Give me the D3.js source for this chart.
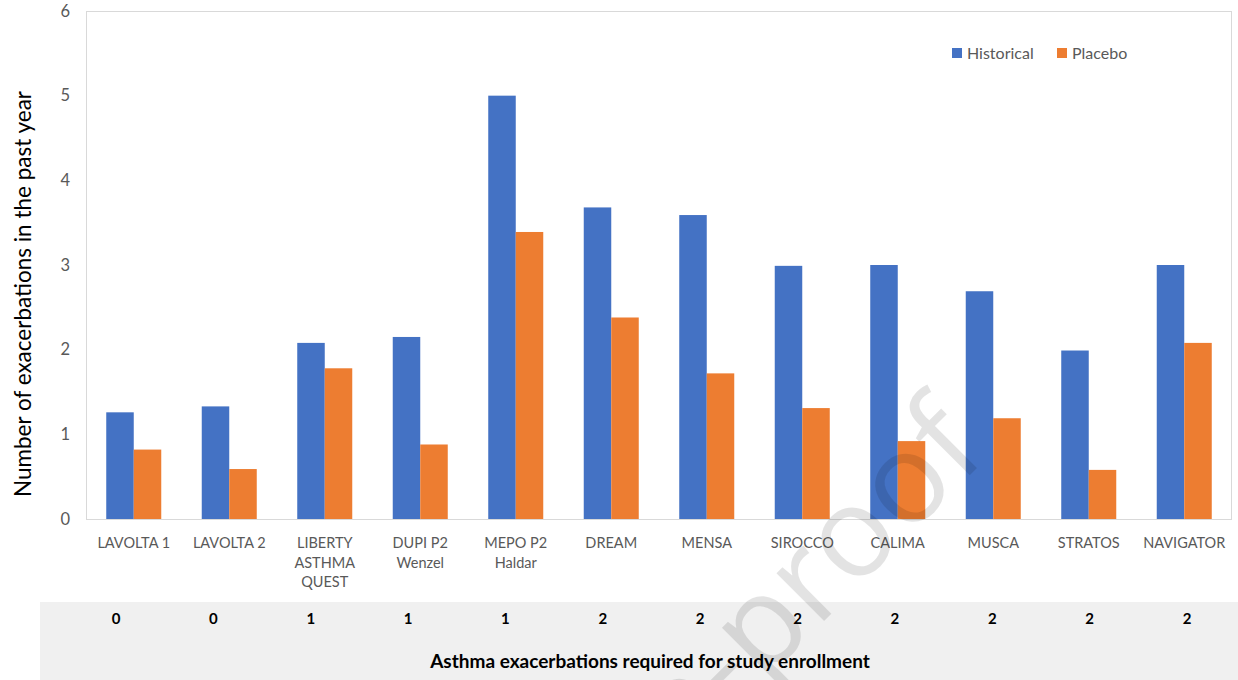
<!DOCTYPE html>
<html>
<head>
<meta charset="utf-8">
<script src="https://cdn.jsdelivr.net/npm/d3@7"></script>
<style>
  html, body { margin: 0; padding: 0; background: #fff; }
  svg { display: block; font-family: Lato, "Noto Sans", sans-serif; }
</style>
</head>
<body>
<svg id="chart" width="1238" height="680"></svg>
<script>
// Trials and their exacerbation rates
const studies = [
  ["LAVOLTA 1"], ["LAVOLTA 2"], ["LIBERTY", "ASTHMA", "QUEST"], ["DUPI P2", "Wenzel"],
  ["MEPO P2", "Haldar"], ["DREAM"], ["MENSA"], ["SIROCCO"], ["CALIMA"], ["MUSCA"],
  ["STRATOS"], ["NAVIGATOR"]
];
const historical = [1.26, 1.33, 2.08, 2.15, 5.0, 3.68, 3.59, 2.99, 3.0, 2.69, 1.99, 3.0];
const placebo    = [0.82, 0.59, 1.78, 0.88, 3.39, 2.38, 1.72, 1.31, 0.92, 1.19, 0.58, 2.08];
const requiredExacerbations = [0, 0, 1, 1, 1, 2, 2, 2, 2, 2, 2, 2];
const seriesNames = ["Historical", "Placebo"];
const yTicks = [0, 1, 2, 3, 4, 5, 6];

const colors = { Historical: "#4472C4", Placebo: "#ED7D31" };
const svg = d3.select("#chart");

const plot = { left: 86, right: 1232, top: 11, bottom: 519 };
const ids = studies.map((s, i) => i);

const x = d3.scaleBand().domain(ids).range([plot.left, plot.right])
  .paddingInner(0.424).paddingOuter(0.212);
const xs = d3.scaleBand().domain(seriesNames).range([0, x.bandwidth()]);
const y = d3.scaleLinear().domain([0, 6]).range([plot.bottom, plot.top]);

// Enrollment criteria panel
svg.append("rect").attr("x", 40).attr("y", 602).attr("width", 1198).attr("height", 78)
  .attr("fill", "#f0f0f0");

// Plot frame
svg.append("rect")
  .attr("x", plot.left + 0.5).attr("y", plot.top + 0.5)
  .attr("width", plot.right - plot.left - 1).attr("height", plot.bottom - plot.top)
  .attr("fill", "none").attr("stroke", "#d9d9d9").attr("stroke-width", 1);

// Bars
const rows = ids.map(i => ({ i, Historical: historical[i], Placebo: placebo[i] }));
const groups = svg.append("g").selectAll("g").data(rows).join("g")
  .attr("transform", d => `translate(${x(d.i)},0)`);
groups.selectAll("rect")
  .data(d => seriesNames.map(k => ({ k, v: d[k] })))
  .join("rect")
  .attr("x", d => xs(d.k))
  .attr("width", xs.bandwidth())
  .attr("y", d => y(d.v))
  .attr("height", d => y(0) - y(d.v))
  .attr("fill", d => colors[d.k]);

// Baseline
svg.append("line").attr("x1", plot.left).attr("x2", plot.right)
  .attr("y1", plot.bottom + 0.5).attr("y2", plot.bottom + 0.5)
  .attr("stroke", "#d9d9d9");

// Y axis
const yAxis = svg.append("g").attr("transform", `translate(${plot.left - 16},0)`)
  .call(d3.axisLeft(y).tickValues(yTicks).tickSize(0).tickPadding(0).tickFormat(d3.format("d")));
yAxis.select(".domain").remove();
yAxis.selectAll("text").attr("fill", "#595959").style("font-size", "16.5px")
  .style("font-family", "Lato, sans-serif");

// Category labels
const catLabels = svg.append("g").selectAll("text").data(ids).join("text")
  .attr("x", i => x(i) + x.bandwidth() / 2)
  .attr("y", 548)
  .attr("text-anchor", "middle")
  .attr("fill", "#595959")
  .style("font-size", "14.5px");
catLabels.selectAll("tspan").data(i => studies[i]).join("tspan")
  .attr("x", function () { return d3.select(this.parentNode).attr("x"); })
  .attr("dy", (d, j) => j === 0 ? 0 : 19.5)
  .text(d => d);

// Y title
svg.append("text")
  .attr("transform", "translate(31,294) rotate(-90)")
  .attr("text-anchor", "middle")
  .attr("fill", "#000")
  .style("font-size", "22.5px")
  .text("Number of exacerbations in the past year");

// Legend
const legend = svg.append("g");
const legendX = [952, 1057];
seriesNames.forEach((name, j) => {
  legend.append("rect").attr("x", legendX[j]).attr("y", 48).attr("width", 10).attr("height", 10)
    .attr("fill", colors[name]);
  legend.append("text").attr("x", legendX[j] + 15).attr("y", 58.5)
    .attr("fill", "#595959").style("font-size", "16px").text(name);
});

// Required exacerbations row
const xr = d3.scalePoint().domain(ids).range([116, 1187]);
svg.append("g").selectAll("text").data(ids).join("text")
  .attr("x", i => xr(i)).attr("y", 624)
  .attr("text-anchor", "middle").attr("fill", "#000")
  .style("font-size", "15px").style("font-weight", "bold")
  .text(i => requiredExacerbations[i]);

svg.append("text").attr("x", 650).attr("y", 668)
  .attr("text-anchor", "middle").attr("fill", "#000")
  .style("font-size", "19px").style("font-weight", "bold")
  .text("Asthma exacerbations required for study enrollment");

// Watermark
svg.append("text")
  .attr("transform", "translate(990,455) rotate(-45)")
  .attr("text-anchor", "end")
  .attr("fill", "rgba(0,0,0,0.11)")
  .style("font-size", "126px")
  .style("font-family", "'Open Sans', sans-serif")
  .style("font-weight", "500")
  .text("Journal Pre-proof");
</script>
</body>
</html>
